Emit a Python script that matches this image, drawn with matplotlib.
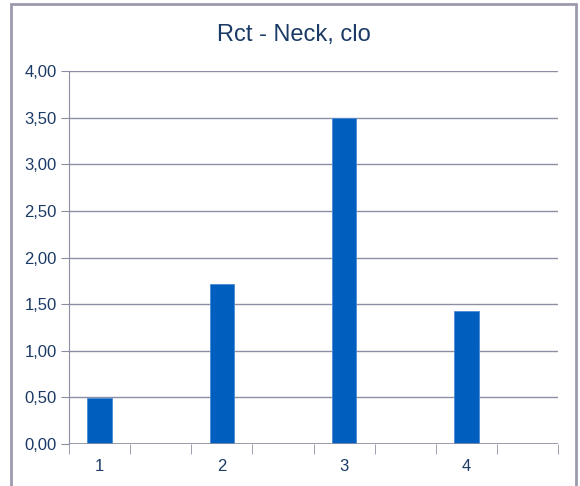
import matplotlib.pyplot as plt
from matplotlib.patches import Rectangle

plt.rcParams['font.family'] = ['Liberation Sans Narrow', 'Liberation Sans', 'DejaVu Sans']

# Eight category slots; bars sit in every other one
slots = list(range(8))
slot_labels = ["1", "", "2", "", "3", "", "4", ""]
values = [0.49, None, 1.72, None, 3.50, None, 1.43, None]
yticks = [0, 0.5, 1.0, 1.5, 2.0, 2.5, 3.0, 3.5, 4.0]

navy = '#1B3A66'
grid = '#8C8FA3'

fig = plt.figure(figsize=(5.8, 4.86), dpi=100)
ax = fig.add_axes([69 / 580, 42 / 486, 489 / 580, 373 / 486])

xs = [s for s, v in zip(slots, values) if v is not None]
hs = [v for v in values if v is not None]
ax.bar(xs, hs, width=0.4, color='#005EBE', edgecolor='#4A8AD6', linewidth=0.6, zorder=3)

ax.set_xlim(-0.5, 7.5)
ax.set_ylim(0, 4.0)
ax.set_yticks(yticks)
ax.set_yticklabels([f"{t:.2f}".replace('.', ',') for t in yticks])
ax.set_xticks(slots)
ax.set_xticklabels(slot_labels)
ax.set_xticks([s - 0.5 for s in slots] + [7.5], minor=True)

ax.yaxis.grid(True, color=grid, linewidth=1.0, zorder=0)
for side in ['top', 'right', 'bottom']:
    ax.spines[side].set_visible(False)
ax.spines['left'].set_color(grid)
ax.axhline(0, color=grid, linewidth=1.2, zorder=4)

ax.tick_params(axis='y', length=6, color=grid, labelsize=12, labelcolor=navy, pad=3)
ax.tick_params(axis='x', which='major', length=0, labelsize=12, labelcolor=navy, pad=11)
ax.tick_params(axis='x', which='minor', length=7, color=grid)

fig.text(294 / 580, 1 - 35 / 486, "Rct - Neck, clo", ha='center', va='center',
         fontsize=17, color=navy)

# Outer chart frame
fig.patches.append(Rectangle((11 / 580, -0.02), 565 / 580, 1 - 4 / 486 + 0.02,
                             transform=fig.transFigure, fill=False,
                             edgecolor='#9B9BAE', linewidth=2))

fig.savefig('out.png', dpi=100)
